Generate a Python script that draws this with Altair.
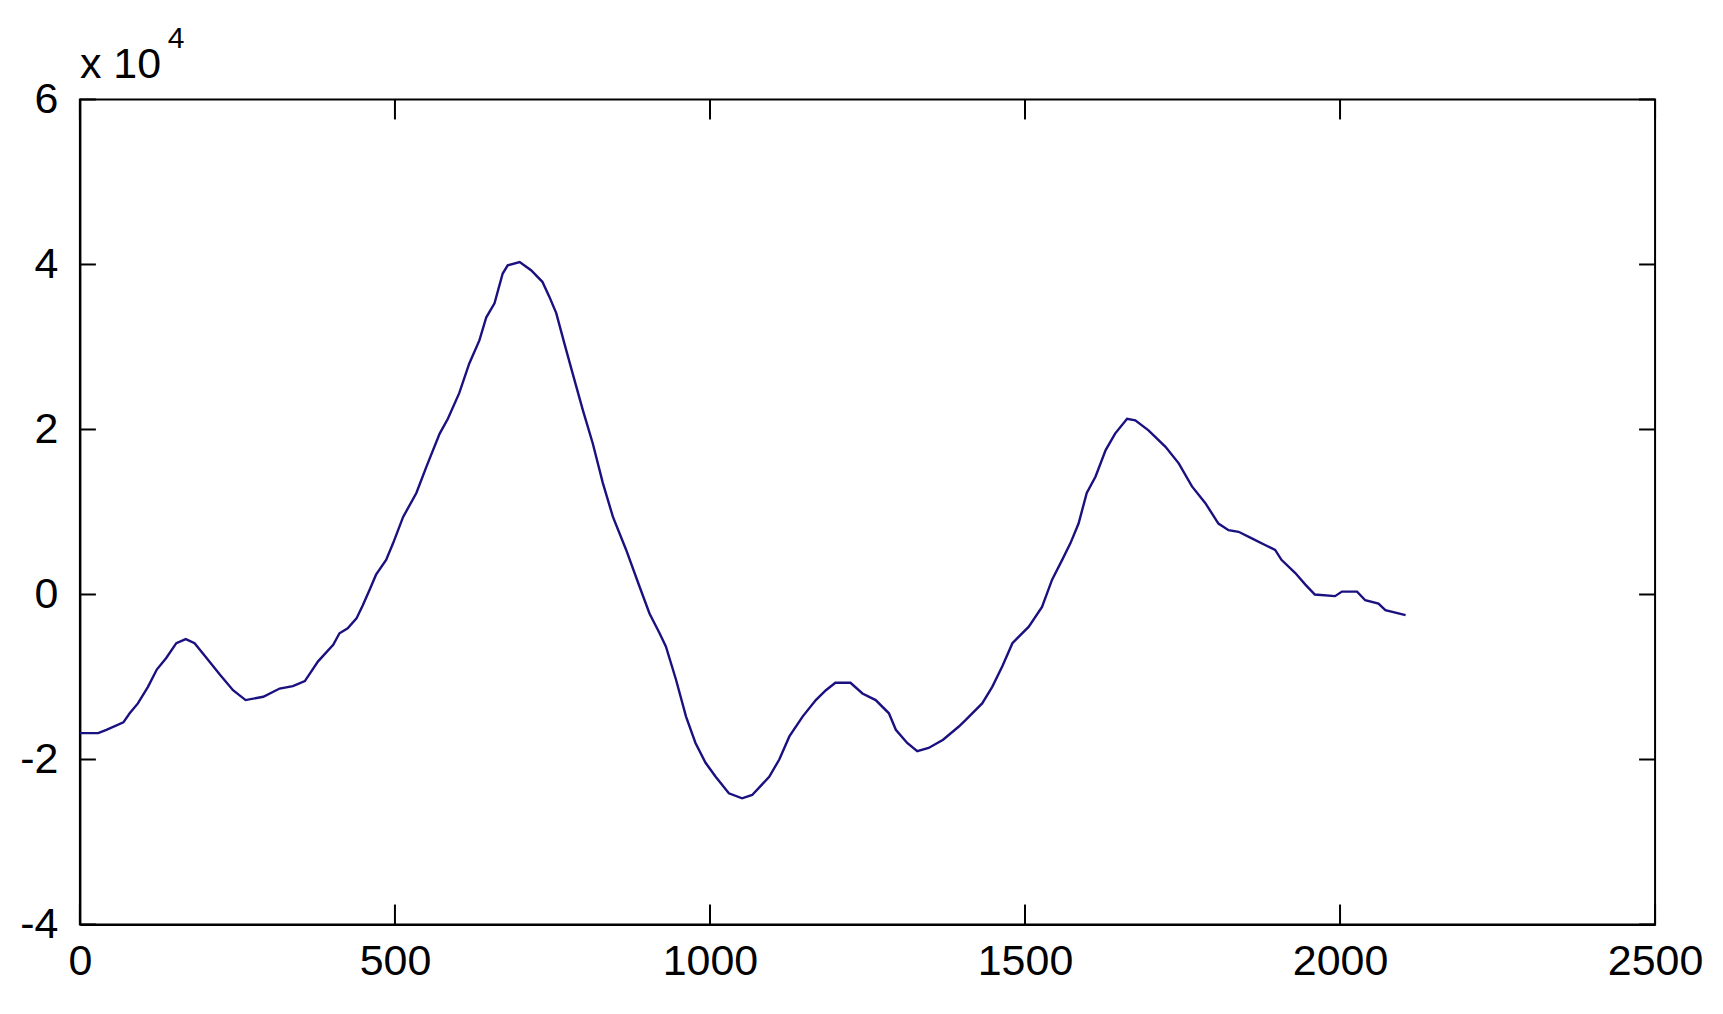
import altair as alt
import pandas as pd

# Sample index (x) and amplitude (y)
sample = [0, 29, 42, 69, 79, 92, 108, 122, 137, 153, 168, 182, 201, 222, 243, 263,
          291, 317, 338, 357, 378, 402, 412, 425, 439, 449, 460, 470, 486, 497, 513,
          534, 550, 571, 584, 602, 618, 634, 645, 658, 671, 679, 698, 716, 734, 745,
          756, 769, 782, 798, 814, 830, 846, 867, 888, 904, 920, 930, 946, 962, 977,
          993, 1009, 1030, 1051, 1067, 1094, 1110, 1126, 1147, 1168, 1184, 1199, 1223,
          1242, 1263, 1284, 1295, 1313, 1329, 1347, 1370, 1395, 1406, 1432, 1448, 1464,
          1480, 1506, 1527, 1543, 1559, 1572, 1585, 1598, 1612, 1628, 1643, 1662, 1675,
          1696, 1723, 1744, 1765, 1786, 1807, 1823, 1839, 1860, 1881, 1897, 1907, 1929,
          1945, 1960, 1992, 2003, 2027, 2040, 2061, 2072, 2104]
amplitude = [-16800, -16800, -16400, -15500, -14400, -13200, -11200, -9100, -7700,
             -5900, -5400, -5900, -7700, -9700, -11600, -12800, -12400, -11400, -11100,
             -10500, -8100, -6100, -4700, -4100, -2900, -1300, 600, 2400, 4200, 6200,
             9400, 12300, 15500, 19500, 21300, 24400, 28000, 30800, 33600, 35300, 38900,
             39900, 40300, 39300, 37900, 36100, 34100, 30400, 26800, 22400, 18300, 13500,
             9400, 5400, 1000, -2300, -4700, -6300, -10300, -14800, -18000, -20400,
             -22100, -24100, -24700, -24300, -22100, -20000, -17200, -14800, -12800,
             -11600, -10700, -10700, -12000, -12800, -14400, -16400, -18000, -19000,
             -18600, -17600, -16000, -15200, -13200, -11200, -8700, -5900, -3900, -1500,
             1800, 4200, 6200, 8600, 12300, 14300, 17500, 19500, 21300, 21100, 19900,
             17900, 15900, 13100, 11100, 8600, 7800, 7600, 6800, 6000, 5400, 4200, 2600,
             1200, 0, -200, 350, 350, -700, -1100, -1900, -2500]

x_ticks = [0, 500, 1000, 1500, 2000, 2500]
y_ticks = [-40000, -20000, 0, 20000, 40000, 60000]

W, H = 1577, 826
FONT = "Liberation Sans"

df = pd.DataFrame({"sample": sample, "amplitude": amplitude})
xscale = alt.Scale(domain=[0, 2500], nice=False, zero=False)
yscale = alt.Scale(domain=[-40000, 60000], nice=False, zero=False)

xaxis = alt.Axis(values=x_ticks, title=None, tickSize=0, grid=False, format="d",
                 labelFontSize=43, labelFont=FONT, labelColor="black",
                 labelPadding=16, domainColor="black", domainWidth=2,
                 labelFlush=False, labelOverlap=False)
yaxis = alt.Axis(values=y_ticks, title=None, tickSize=0, grid=False,
                 labelExpr="datum.value / 10000",
                 labelFontSize=43, labelFont=FONT, labelColor="black",
                 labelPadding=22, domainColor="black", domainWidth=2,
                 labelFlush=False, labelOverlap=False)

line = alt.Chart(df).mark_line(color="#1a1080", strokeWidth=2.4).encode(
    x=alt.X("sample:Q", scale=xscale, axis=xaxis),
    y=alt.Y("amplitude:Q", scale=yscale, axis=yaxis),
)

xt = pd.DataFrame({"t": x_ticks})
yt = pd.DataFrame({"t": y_ticks})

bottom_ticks = alt.Chart(xt).mark_rule(color="black", strokeWidth=2).encode(
    x=alt.X("t:Q", scale=xscale, axis=xaxis), y=alt.value(H), y2=alt.value(H - 20))
top_ticks = alt.Chart(xt).mark_rule(color="black", strokeWidth=2).encode(
    x=alt.X("t:Q", scale=xscale, axis=xaxis), y=alt.value(0), y2=alt.value(20))
left_ticks = alt.Chart(yt).mark_rule(color="black", strokeWidth=2).encode(
    y=alt.Y("t:Q", scale=yscale, axis=yaxis), x=alt.value(0), x2=alt.value(16))
right_ticks = alt.Chart(yt).mark_rule(color="black", strokeWidth=2).encode(
    y=alt.Y("t:Q", scale=yscale, axis=yaxis), x=alt.value(W), x2=alt.value(W - 16))

exp_base = alt.Chart(pd.DataFrame({"s": ["x 10"]})).mark_text(
    align="left", baseline="alphabetic", fontSize=43, font=FONT, color="black"
).encode(text="s:N", x=alt.value(0), y=alt.value(-21))
exp_pow = alt.Chart(pd.DataFrame({"s": ["4"]})).mark_text(
    align="left", baseline="alphabetic", fontSize=30, font=FONT, color="black"
).encode(text="s:N", x=alt.value(88), y=alt.value(-52))

chart = alt.layer(
    line, bottom_ticks, top_ticks, left_ticks, right_ticks, exp_base, exp_pow
).properties(
    width=W, height=H,
    autosize=alt.AutoSizeParams(type="none"),
    padding={"left": 72, "top": 91, "right": 60, "bottom": 70},
    background="white",
).configure_view(stroke="black", strokeWidth=2)

chart.save("out.html", embed_options={"renderer": "svg", "actions": False})
